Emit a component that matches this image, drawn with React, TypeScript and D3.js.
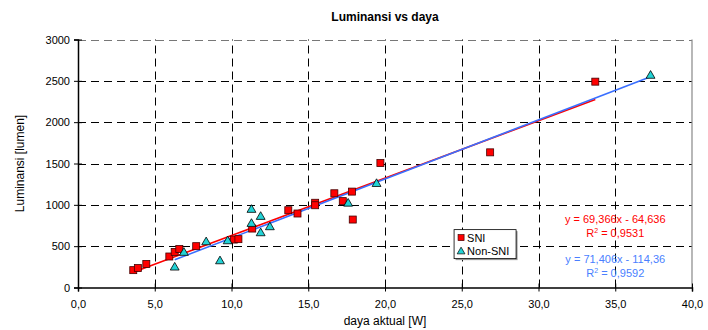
import { useEffect, useRef } from 'react';
import * as d3 from 'd3';

const WIDTH = 708;
const HEIGHT = 330;
const MARGIN = { top: 39.5, right: 16, bottom: 42.5, left: 78 };

const X_TICKS = [0, 5, 10, 15, 20, 25, 30, 35, 40];
const Y_TICKS = [0, 500, 1000, 1500, 2000, 2500, 3000];

// SNI samples: [daya aktual W, luminansi lumen]
const sniX = [3.6, 3.9, 4.45, 5.95, 6.3, 6.6, 7.7, 10.15, 10.45, 11.35, 13.7, 14.3, 15.45, 15.45, 16.7, 17.25, 17.85, 17.9, 19.7, 26.85, 33.7];
const sniY = [210, 235, 285, 375, 430, 465, 500, 580, 585, 713, 935, 895, 1025, 995, 1140, 1045, 1160, 822, 1505, 1635, 2490];

const nonX = [6.3, 6.9, 8.35, 9.25, 9.75, 11.3, 11.3, 11.9, 11.9, 12.5, 17.6, 19.45, 37.3];
const nonY = [242, 420, 548, 318, 560, 940, 770, 855, 657, 730, 1015, 1253, 2562];

// trend lines (from the chart labels)
const sniFit = { a: 69.366, b: -64.636, from: 3.6, to: 33.7 };
const nonFit = { a: 71.406, b: -114.36, from: 6.3, to: 37.3 };

const RED = '#ff0000';
const BLUE = '#3a6fff';
const FONT = 'Liberation Sans, Arial, sans-serif';

export default function App() {
  const svgRef = useRef<SVGSVGElement>(null);

  useEffect(() => {
    if (!svgRef.current) return;
    const svg = d3.select(svgRef.current);
    svg.selectAll('*').remove();

    const innerW = WIDTH - MARGIN.left - MARGIN.right;
    const innerH = HEIGHT - MARGIN.top - MARGIN.bottom;
    const x = d3.scaleLinear().domain([0, 40]).range([MARGIN.left, MARGIN.left + innerW]);
    const y = d3.scaleLinear().domain([0, 3000]).range([MARGIN.top + innerH, MARGIN.top]);

    svg.append('rect').attr('width', WIDTH).attr('height', HEIGHT).attr('fill', '#fff');

    // grid
    const grid = svg.append('g');
    grid.selectAll('line.gy')
      .data(Y_TICKS.slice(1))
      .enter()
      .append('line')
      .attr('x1', x(0)).attr('x2', x(40))
      .attr('y1', (d) => Math.round(y(d)) + 0.5).attr('y2', (d) => Math.round(y(d)) + 0.5)
      .attr('stroke', (d) => (d === 3000 ? '#777' : '#000'))
      .attr('stroke-dasharray', '8,5');
    grid.selectAll('line.gx')
      .data(X_TICKS.slice(1, -1))
      .enter()
      .append('line')
      .attr('y1', y(0)).attr('y2', y(3000))
      .attr('x1', (d) => Math.round(x(d)) + 0.5).attr('x2', (d) => Math.round(x(d)) + 0.5)
      .attr('stroke', '#000')
      .attr('stroke-dasharray', '8,5');
    svg.append('line')
      .attr('x1', x(40)).attr('x2', x(40)).attr('y1', y(0)).attr('y2', y(3000))
      .attr('stroke', '#888').attr('stroke-width', 1.2);

    // axes
    const xAxis = d3.axisBottom(x).tickValues(X_TICKS).tickSize(4)
      .tickFormat((v) => d3.format('.1f')(Number(v)).replace('.', ','));
    const gx = svg.append('g').attr('transform', `translate(0,${y(0)})`).call(xAxis);
    gx.selectAll('.tick line').attr('y1', -4).attr('stroke', '#000');
    gx.selectAll('.tick text').attr('dy', '1.2em');

    const yAxis = d3.axisLeft(y).tickValues(Y_TICKS).tickSize(4).tickFormat((v) => String(v));
    const gy = svg.append('g').attr('transform', `translate(${x(0)},0)`).call(yAxis);
    gy.selectAll('.tick line').attr('x1', 4).attr('stroke', '#000');
    gy.selectAll('.tick text').attr('x', -8);

    svg.selectAll('.domain').attr('stroke', '#000').attr('stroke-width', 1.5);
    svg.selectAll('.tick text').attr('font-family', FONT).attr('font-size', 11).attr('fill', '#000');

    // trend lines
    const fitLine = (f: typeof sniFit, color: string) => {
      svg.append('line')
        .attr('x1', x(f.from)).attr('y1', y(f.a * f.from + f.b))
        .attr('x2', x(f.to)).attr('y2', y(f.a * f.to + f.b))
        .attr('stroke', color).attr('stroke-width', 1.6);
    };
    fitLine(sniFit, RED);
    fitLine(nonFit, BLUE);

    // markers
    svg.append('g')
      .selectAll('rect')
      .data(sniX.map((d, i) => [d, sniY[i]]))
      .enter()
      .append('rect')
      .attr('x', (d) => x(d[0]) - 3.5)
      .attr('y', (d) => y(d[1]) - 3.5)
      .attr('width', 7).attr('height', 7)
      .attr('fill', RED).attr('stroke', '#400').attr('stroke-width', 0.8);

    const tri = d3.symbol().type(d3.symbolTriangle).size(34);
    svg.append('g')
      .selectAll('path')
      .data(nonX.map((d, i) => [d, nonY[i]]))
      .enter()
      .append('path')
      .attr('d', tri)
      .attr('transform', (d) => `translate(${x(d[0])},${y(d[1])})`)
      .attr('fill', '#22d3d6').attr('stroke', '#000').attr('stroke-width', 0.8);

    // equations
    const eq = (lines: [string, string][], color: string, cx: number, cy: number) => {
      lines.forEach((ln, i) => {
        const t = svg.append('text')
          .attr('x', cx).attr('y', cy + i * 14)
          .attr('text-anchor', 'middle')
          .attr('font-family', FONT).attr('font-size', 11).attr('fill', color);
        t.append('tspan').text(ln[0]);
        if (ln[1]) {
          t.append('tspan').attr('dy', -4).attr('font-size', 7).text('2');
          t.append('tspan').attr('dy', 4).text(ln[1]);
        }
      });
    };
    eq([['y = 69,366x - 64,636', ''], ['R', ' = 0,9531']], RED, x(35), y(780));
    eq([['y = 71,406x - 114,36', ''], ['R', ' = 0,9592']], '#4a7fff', x(35), y(300));

    // legend
    const lg = svg.append('g').attr('transform', `translate(${x(24.5)},${y(700)})`);
    lg.append('rect').attr('x', 1.5).attr('y', 1.5).attr('width', 62).attr('height', 29).attr('fill', '#999');
    lg.append('rect').attr('width', 62).attr('height', 29).attr('fill', '#fff').attr('stroke', '#000').attr('stroke-width', 0.8);
    lg.append('rect').attr('x', 4).attr('y', 5).attr('width', 6).attr('height', 6).attr('fill', RED).attr('stroke', '#400').attr('stroke-width', 0.7);
    lg.append('path').attr('d', d3.symbol().type(d3.symbolTriangle).size(26)).attr('transform', 'translate(7,22)')
      .attr('fill', '#22d3d6').attr('stroke', '#000').attr('stroke-width', 0.7);
    lg.append('text').attr('x', 13).attr('y', 12).attr('font-family', FONT).attr('font-size', 11).text('SNI');
    lg.append('text').attr('x', 13).attr('y', 25.5).attr('font-family', FONT).attr('font-size', 11).text('Non-SNI');

    // titles
    svg.append('text')
      .attr('x', x(20)).attr('y', 21)
      .attr('text-anchor', 'middle').attr('font-family', FONT).attr('font-size', 12).attr('font-weight', 'bold')
      .text('Luminansi vs daya');
    svg.append('text')
      .attr('x', x(20)).attr('y', 325)
      .attr('text-anchor', 'middle').attr('font-family', FONT).attr('font-size', 12)
      .text('daya aktual [W]');
    svg.append('text')
      .attr('transform', `translate(24,${y(1500)}) rotate(-90)`)
      .attr('text-anchor', 'middle').attr('font-family', FONT).attr('font-size', 12)
      .text('Luminansi [lumen]');
  }, []);

  return (
    <svg
      ref={svgRef}
      width={WIDTH}
      height={HEIGHT}
      style={{ position: 'absolute', left: 0, top: 0 }}
    />
  );
}
